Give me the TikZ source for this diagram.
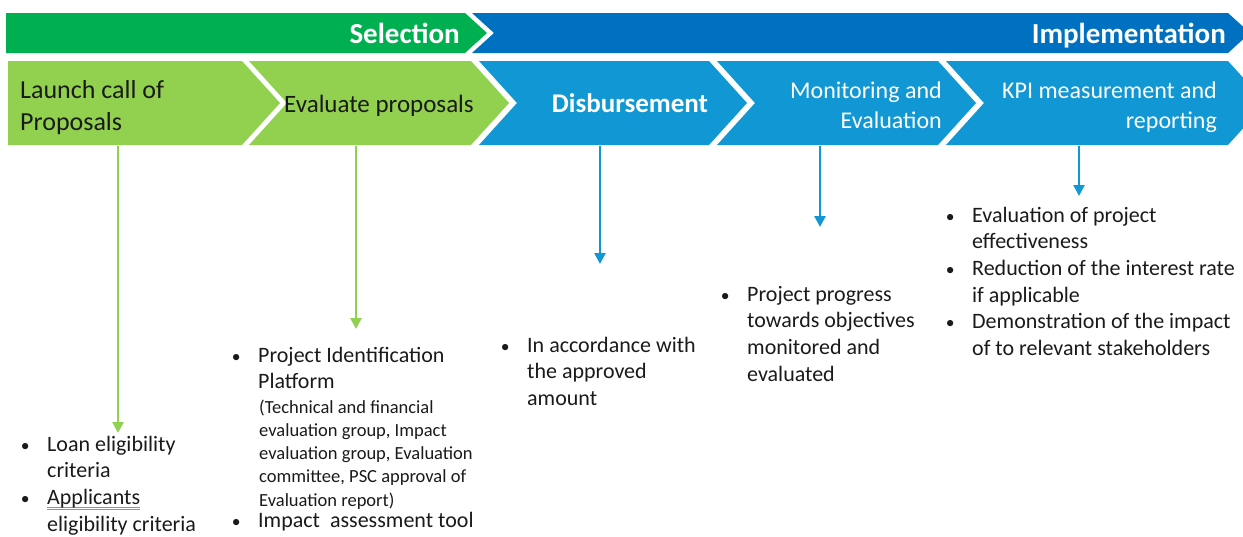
\documentclass[tikz,border=0pt]{standalone}
\usepackage{fontspec}
\setmainfont{Carlito}
\usetikzlibrary{arrows.meta}

\definecolor{selgreen}{HTML}{00B050}
\definecolor{stepgreen}{HTML}{92D050}
\definecolor{implblue}{HTML}{0070C0}
\definecolor{stepblue}{HTML}{1197D3}
\definecolor{txtdark}{HTML}{1A1A1A}
\definecolor{spellblue}{HTML}{6E93F0}

% bullet cell: bullet centred on the cell's left edge, text 22pt further right
\newcommand\bul{\makebox[22pt][l]{\makebox[0pt][c]{\scalebox{0.8}{•}}}}
\newcommand\blk[1]{\begin{tabular}[t]{@{}l@{}l@{}}#1\end{tabular}}
\newcommand\lines[2]{\begin{tabular}[t]{@{}#1@{}}#2\end{tabular}}
% word with a proofing (double) underline
\newcommand\spellmark[1]{\setbox0\hbox{#1}%
  \rlap{\color{spellblue}\rule[-3.2pt]{\wd0}{1pt}}%
  \rlap{\color{spellblue}\rule[-5.4pt]{\wd0}{1pt}}#1}

\tikzset{
  darklabel/.style={inner sep=0, text=txtdark},
  lightlabel/.style={inner sep=0, text=white},
  bullets/.style={inner sep=0, anchor=base west, text=txtdark,
    font=\fontsize{22}{26.7}\selectfont},
  drop/.style={line width=2.5pt, -{Triangle[width=11pt,length=11pt]}},
}

\begin{document}
\begin{tikzpicture}[x=1pt,y=-1pt]
\path[use as bounding box] (0,0) rectangle (1243,536);
\clip (0,0) rectangle (1243,536);

% phase bands
\fill[selgreen] (6,13) -- (465,13) -- (487,33) -- (465,53) -- (6,53) -- cycle;
\fill[implblue] (472,13) -- (1228,13) -- (1250,33) -- (1228,53) -- (472,53) -- (494,33) -- cycle;

% process steps
\fill[stepgreen] (8,61) -- (242,61) -- (280,103) -- (242,145) -- (8,145) -- cycle;
\fill[stepgreen] (249,61) -- (471,61) -- (509,103) -- (471,145) -- (249,145) -- (287,103) -- cycle;
\fill[stepblue] (479,61) -- (709,61) -- (747,103) -- (709,145) -- (479,145) -- (517,103) -- cycle;
\fill[stepblue] (717,61) -- (938,61) -- (976,103) -- (938,145) -- (717,145) -- (755,103) -- cycle;
\fill[stepblue] (946,61) -- (1228,61) -- (1266,103) -- (1228,145) -- (946,145) -- (984,103) -- cycle;

% band titles
\node[lightlabel, anchor=base east, font=\bfseries\fontsize{29}{34}\selectfont] (sel) at (460,43) {Selection};
\node[lightlabel, anchor=base east, font=\bfseries\fontsize{29}{34}\selectfont] (impl) at (1226,43) {Implementation};

% step titles
\node[darklabel, anchor=base west, font=\fontsize{26}{32}\selectfont] (launch) at (20,98) {\lines{l}{Launch call of\\Proposals}};
\node[darklabel, anchor=base, font=\fontsize{25}{30}\selectfont] (evalp) at (379,112) {Evaluate proposals};
\node[lightlabel, anchor=base, font=\bfseries\fontsize{27}{32}\selectfont] (disb) at (630,112) {Disbursement};
\node[lightlabel, anchor=base east, font=\fontsize{24}{30}\selectfont] (moni) at (942,98) {\lines{r}{Monitoring and\\Evaluation}};
\node[lightlabel, anchor=base east, font=\fontsize{24}{30}\selectfont] (kpi) at (1217,98) {\lines{r}{KPI measurement and\\reporting}};

% details under each step
\node[bullets] (loan) at (25,451) {\blk{\bul&Loan eligibility\\&criteria\\\bul&\spellmark{Applicants}\\&eligibility criteria}};
\node[bullets] (pip) at (236,362) {\blk{\bul&Project Identification\\&Platform}};
\node[inner sep=0, anchor=base west, text=txtdark, font=\fontsize{18.5}{23.3}\selectfont] (pipd) at (259,413)
  {\lines{l}{(Technical and financial\\evaluation group, Impact\\evaluation group, Evaluation\\committee, PSC approval of\\Evaluation report)}};
\node[bullets] (iat) at (236,527) {\blk{\bul&Impact~ assessment tool}};
\node[bullets] (acc) at (505,352) {\blk{\bul&In accordance with\\&the approved\\&amount}};
\node[bullets] (prog) at (725,301) {\blk{\bul&Project progress\\&towards objectives\\&monitored and\\&evaluated}};
\node[bullets] (kpil) at (950,222) {\blk{\bul&Evaluation of project\\&effectiveness\\\bul&Reduction of the interest rate\\&if applicable\\\bul&Demonstration of the impact\\&of to relevant stakeholders}};

% arrow anchors on the step bases and above the detail lists
\coordinate (launchfoot) at (118,146);  \coordinate (loantop) at (118,433);
\coordinate (evalfoot) at (356,146);    \coordinate (piptop) at (356,329);
\coordinate (disbfoot) at (600,146);    \coordinate (acctop) at (600,264);
\coordinate (monifoot) at (820,146);    \coordinate (progtop) at (820,227);
\coordinate (kpifoot) at (1079,146);    \coordinate (kpiltop) at (1079,196);

\draw[drop, stepgreen] (launchfoot) -- (loantop);
\draw[drop, stepgreen] (evalfoot) -- (piptop);
\draw[drop, stepblue] (disbfoot) -- (acctop);
\draw[drop, stepblue] (monifoot) -- (progtop);
\draw[drop, stepblue] (kpifoot) -- (kpiltop);
\end{tikzpicture}
\end{document}
